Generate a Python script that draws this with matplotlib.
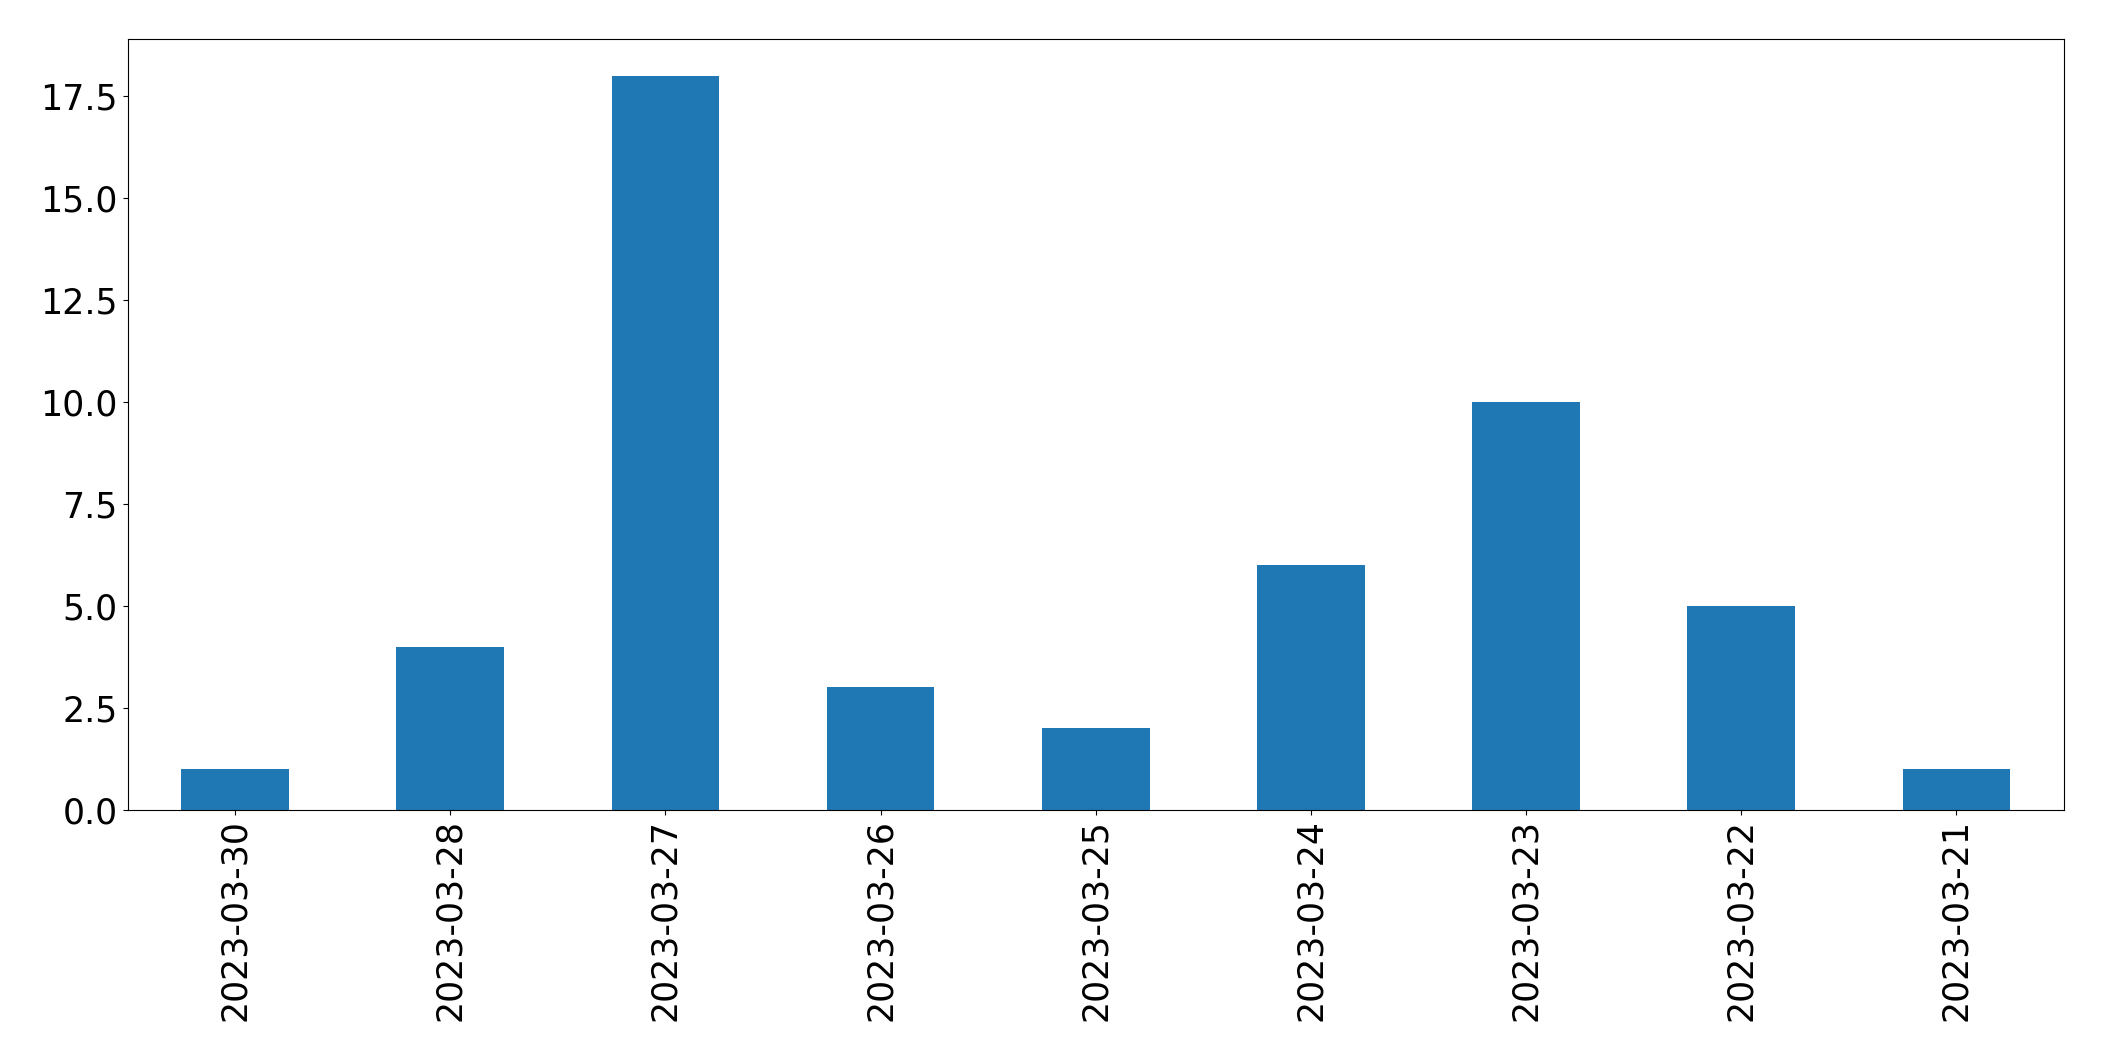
import matplotlib
matplotlib.use("Agg")
import matplotlib.pyplot as plt

# daily counts, in the order shown on the chart
dates = ["2023-03-30", "2023-03-28", "2023-03-27", "2023-03-26", "2023-03-25",
         "2023-03-24", "2023-03-23", "2023-03-22", "2023-03-21"]
counts = [1, 4, 18, 3, 2, 6, 10, 5, 1]

fig = plt.figure(figsize=(21.04, 10.61), dpi=100)
ax = fig.add_axes([0.0606, 0.237, 0.9204, 0.726])

x = range(len(dates))
ax.bar(x, counts, width=0.5, color="#1f77b4")
ax.set_xlim(-0.5, len(dates) - 0.5)
ax.set_xticks(list(x))
ax.set_xticklabels(dates, rotation=90)
ax.tick_params(labelsize=25)

fig.savefig("out.png", dpi=100)
